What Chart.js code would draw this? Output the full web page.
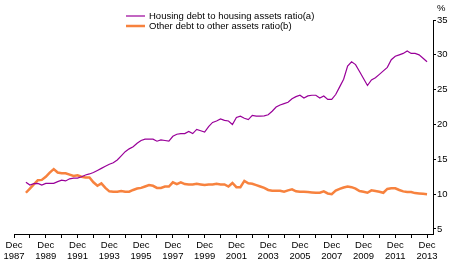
<!DOCTYPE html>
<html>
<head>
  <style>
    body { margin: 0; background: #fff; }
    #wrap { width: 454px; height: 265px; }
  </style>
</head>
<body>
<div id="wrap"><canvas id="chart" width="454" height="265"></canvas></div>
<script src="https://cdn.jsdelivr.net/npm/chart.js"></script>
<script>
// quarterly, Sep 1988 to Dec 2013 (x axis counts quarters from Dec 1987)
const firstQuarter = 3;
const seriesNames = ['Housing debt to housing assets ratio(a)', 'Other debt to other assets ratio(b)'];

const housingRatio = [
  11.7, 11.3, 11.5, 11.55, 11.3, 11.55, 11.55, 11.55, 11.8, 12.0, 11.9, 12.2, 12.3, 12.3, 12.5, 12.75,
  12.9, 13.1, 13.4, 13.7, 14.0, 14.3, 14.5, 14.9, 15.5, 16.1, 16.5, 16.8, 17.3, 17.7, 17.9, 17.9,
  17.9, 17.6, 17.8, 17.7, 17.6, 18.3, 18.6, 18.7, 18.7, 19.0, 18.7, 19.3, 19.1, 18.9, 19.7, 20.3,
  20.5, 20.8, 20.6, 20.5, 20.0, 21.0, 21.2, 20.9, 20.7, 21.3, 21.2, 21.2, 21.25, 21.4, 21.9, 22.5,
  22.8, 23.0, 23.2, 23.7, 24.0, 24.2, 23.8, 24.1, 24.2, 24.2, 23.8, 24.1, 23.6, 23.6, 24.3, 25.4,
  26.5, 28.4, 29.0, 28.6, 27.6, 26.6, 25.6, 26.4, 26.7, 27.2, 27.7, 28.2, 29.3, 29.8, 30.0, 30.2,
  30.55, 30.2, 30.2, 30.0, 29.5, 29.0
];
const otherRatio = [
  10.2, 10.8, 11.4, 12.0, 12.05, 12.5, 13.1, 13.6, 13.1, 13.0, 13.0, 12.8, 12.6, 12.7, 12.5, 12.4,
  12.4, 11.7, 11.2, 11.55, 10.9, 10.4, 10.35, 10.35, 10.45, 10.35, 10.35, 10.6, 10.8, 10.9, 11.1, 11.3,
  11.2, 10.9, 10.9, 11.1, 11.1, 11.7, 11.45, 11.7, 11.45, 11.4, 11.4, 11.5, 11.4, 11.3, 11.4, 11.4,
  11.5, 11.4, 11.4, 11.1, 11.6, 11.0, 11.0, 11.9, 11.55, 11.5, 11.3, 11.1, 10.9, 10.6, 10.5, 10.5,
  10.5, 10.35, 10.55, 10.7, 10.4, 10.35, 10.35, 10.3, 10.25, 10.2, 10.2, 10.4, 10.1, 10.0, 10.5, 10.75,
  10.95, 11.1, 11.0, 10.8, 10.45, 10.35, 10.2, 10.55, 10.45, 10.35, 10.2, 10.75, 10.85, 10.85, 10.6, 10.4,
  10.3, 10.3, 10.15, 10.1, 10.05, 10.0
];

const yTicks = [5, 10, 15, 20, 25, 30, 35];
const firstYear = 1987; // Dec 1987 = quarter 0

const xTicks = [];
for (let q = 0; q <= 104; q += 4) xTicks.push(q);

const months = ['Mar', 'Jun', 'Sep', 'Dec'];
const quarterLabels = housingRatio.map((_, i) => {
  const q = firstQuarter + i;
  return months[(q + 3) % 4] + ' ' + (firstYear + Math.floor((q + 3) / 4));
});

const purple = '#990099';
const orange = '#F7823E';
const font = "'Liberation Sans', Arial, sans-serif";

function toPoints(arr) {
  return arr.map((v, i) => ({ x: firstQuarter + i, y: v }));
}

const legendAndUnit = {
  id: 'legendAndUnit',
  afterDraw(chart) {
    const ctx = chart.ctx;
    const ys = chart.scales.y;
    ctx.save();
    ctx.font = '9.5px ' + font;
    ctx.fillStyle = '#000';
    ctx.textBaseline = 'middle';
    ctx.textAlign = 'left';
    ctx.fillText('%', ys.left + 4, 8);
    const rows = [[purple, 1.2, 16], [orange, 2.5, 26]];
    rows.forEach((r, i) => {
      ctx.strokeStyle = r[0];
      ctx.lineWidth = r[1];
      ctx.beginPath();
      ctx.moveTo(126, r[2]);
      ctx.lineTo(145, r[2]);
      ctx.stroke();
      ctx.fillText(seriesNames[i], 149, r[2]);
    });
    ctx.restore();
  }
};

new Chart(document.getElementById('chart'), {
  type: 'line',
  data: {
    labels: quarterLabels,
    datasets: [
      { label: seriesNames[0], data: toPoints(housingRatio), borderColor: purple, borderWidth: 1.2, pointRadius: 0, tension: 0 },
      { label: seriesNames[1], data: toPoints(otherRatio), borderColor: orange, borderWidth: 2.5, pointRadius: 0, tension: 0 }
    ]
  },
  options: {
    responsive: false,
    animation: false,
    layout: { padding: { left: 14, top: 20, right: 0, bottom: 0 } },
    plugins: { legend: { display: false }, tooltip: { enabled: false } },
    scales: {
      x: {
        type: 'linear',
        min: 0,
        max: 105.5,
        afterBuildTicks: s => { s.ticks = xTicks.map(v => ({ value: v })); },
        afterFit: s => { s.height = 31; },
        grid: { drawOnChartArea: false, tickLength: 4, color: '#000' },
        border: { color: '#000' },
        ticks: {
          autoSkip: false,
          maxRotation: 0,
          padding: 2,
          color: '#000',
          font: { family: font, size: 9.5, lineHeight: 1.15 },
          callback: v => (v % 8 === 0 ? ['Dec', String(firstYear + v / 4)] : '')
        }
      },
      y: {
        position: 'right',
        min: 4.28,
        max: 35,
        afterBuildTicks: s => { s.ticks = yTicks.map(v => ({ value: v })); },
        afterFit: s => { s.width = 21; },
        grid: { drawOnChartArea: false, tickLength: 3, color: '#000' },
        border: { color: '#000' },
        ticks: {
          padding: 1,
          color: '#000',
          font: { family: font, size: 9.5 }
        }
      }
    }
  },
  plugins: [legendAndUnit]
});
</script>
</body>
</html>
